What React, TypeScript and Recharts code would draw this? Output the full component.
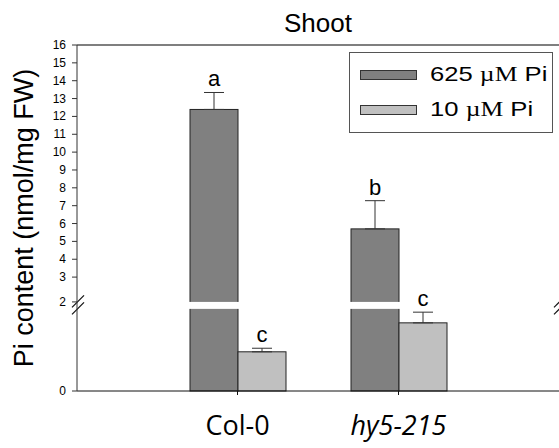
import React from "react";
import {
  ComposedChart,
  Bar,
  XAxis,
  YAxis,
  ErrorBar,
  ReferenceLine,
  Legend,
  LabelList,
} from "recharts";

const categories = ["Col-0", "hy5-215"];
const pi625 = [12.39, 5.7];
const pi625Err = [0.95, 1.58];
const pi10 = [0.88, 1.53];
const pi10Err = [0.08, 0.24];
const letters625 = ["a", "b"];
const letters10 = ["c", "c"];
const yTickLabels = [0, 2, 3, 4, 5, 6, 7, 8, 9, 10, 11, 12, 13, 14, 15, 16];
const seriesNames = ["625 µM Pi", "10 µM Pi"];

// broken axis: lower segment 0..2, upper segment 2..16
const LOWER_TOP = 2;
const LOWER_SPAN = 4.99;
const UPPER_BASE = 5.38;
const GAP_LO = 4.6;
const GAP_HI = 4.99;
const BREAK_MARK = 4.82;

const toDisplay = (v: number) =>
  v <= LOWER_TOP ? (v / LOWER_TOP) * LOWER_SPAN : UPPER_BASE + (v - LOWER_TOP);

const DARK = "#808080";
const LIGHT = "#c0c0c0";
const FONT = "'Liberation Sans', Arial, sans-serif";

const data = categories.map((name, i) => ({
  name,
  high: toDisplay(pi625[i]),
  highErr: [0, toDisplay(pi625[i] + pi625Err[i]) - toDisplay(pi625[i])],
  low: toDisplay(pi10[i]),
  lowErr: [0, toDisplay(pi10[i] + pi10Err[i]) - toDisplay(pi10[i])],
  highLetter: letters625[i],
  lowLetter: letters10[i],
}));

const yTicks = yTickLabels.map((v) => toDisplay(v));
const yMax = toDisplay(16);

const BrokenBar = (props: any) => {
  const { x, y, width, height, fill, dv } = props;
  if (!height || height <= 0) return null;
  const ppu = height / dv;
  const base = y + height;
  return (
    <g>
      <rect x={x} y={y} width={width} height={height} fill={fill} stroke="#222" strokeWidth={1} />
      {dv > GAP_HI && (
        <rect
          x={x - 1}
          y={base - GAP_HI * ppu}
          width={width + 2}
          height={(GAP_HI - GAP_LO) * ppu}
          fill="#ffffff"
          stroke="none"
        />
      )}
    </g>
  );
};

const makeLetter = (key: "high" | "low", errKey: "highErr" | "lowErr") => (props: any) => {
  const { x, y, width, height, value, index } = props;
  const row = data[index];
  if (!row) return null;
  const ppu = height / row[key];
  const errPx = (row[errKey] as number[])[1] * ppu;
  return (
    <text
      x={x + width / 2}
      y={y - errPx - 6}
      textAnchor="middle"
      fontFamily={FONT}
      fontSize={22}
      fill="#000"
    >
      {value}
    </text>
  );
};

const BreakMarks = (props: any) => {
  const { x1, y1, x2 } = props;
  const slash = (cx: number, key: string) => (
    <g key={key}>
      <line x1={cx - 6} y1={y1 + 2.5} x2={cx + 6} y2={y1 - 9.5} stroke="#111" strokeWidth={1.2} />
      <line x1={cx - 6} y1={y1 + 9.5} x2={cx + 6} y2={y1 - 2.5} stroke="#111" strokeWidth={1.2} />
    </g>
  );
  return (
    <g>
      {slash(x1 + 1, "l")}
      {slash(x2 + 1, "r")}
    </g>
  );
};

const XTick = (props: any) => {
  const { x, y, payload } = props;
  const italic = payload.value === "hy5-215";
  return (
    <text
      x={x}
      y={y + 38}
      textAnchor="middle"
      fontFamily="'Open Sans', 'Noto Sans', sans-serif"
      fontStyle={italic ? "italic" : "normal"}
      fontSize={27}
      fill="#000"
    >
      {payload.value}
    </text>
  );
};

const YTick = (props: any) => {
  const { x, y, index } = props;
  return (
    <text
      x={x}
      y={y + 4}
      textAnchor="end"
      fontFamily={FONT}
      fontSize={12}
      fill="#000"
    >
      {String(yTickLabels[index])}
    </text>
  );
};

const LegendBox = (props: any) => {
  const payload = [...(props.payload || [])].sort(
    (a: any, b: any) => seriesNames.indexOf(a.value) - seriesNames.indexOf(b.value)
  );
  return (
    <div
      style={{
        width: 204,
        height: 81,
        border: "1px solid #555",
        boxSizing: "border-box",
        position: "relative",
        background: "#fff",
      }}
    >
      {payload.map((item: any, i: number) => {
        const parts = String(item.value).split("µM");
        return (
          <div key={i}>
            <div
              style={{
                position: "absolute",
                left: 10,
                top: 17 + i * 35,
                width: 57,
                height: 10,
                background: item.color,
                border: "1px solid #333",
                boxSizing: "border-box",
              }}
            />
            <div
              style={{
                position: "absolute",
                left: 80,
                top: 8 + i * 35,
                fontFamily: FONT,
                fontSize: 21,
                lineHeight: "26px",
                whiteSpace: "nowrap",
                color: "#000",
                transform: "scaleX(1.22)",
                transformOrigin: "left center",
              }}
            >
              {parts[0]}
              <span style={{ fontFamily: "'Liberation Serif', 'Times New Roman', serif" }}>µM</span>
              {parts[1]}
            </div>
          </div>
        );
      })}
    </div>
  );
};

export default function App() {
  return (
    <div style={{ position: "absolute", left: 0, top: 0, width: 559, height: 448, background: "#fff" }}>
      <ComposedChart
        width={559}
        height={448}
        data={data}
        margin={{ top: 45, right: 0, bottom: 0, left: 0 }}
        barGap={0}
        barSize={48}
      >
        <XAxis
          dataKey="name"
          padding={{ left: 80, right: 80 }}
          height={57}
          tickSize={4}
          tick={<XTick />}
          axisLine={{ stroke: "#111" }}
          tickLine={{ stroke: "#111" }}
          interval={0}
        />
        <YAxis
          type="number"
          domain={[0, yMax]}
          ticks={yTicks}
          interval={0}
          width={77}
          tickSize={5}
          tickMargin={6}
          tick={<YTick />}
          axisLine={{ stroke: "#333" }}
          tickLine={{ stroke: "#333" }}
          label={{
            value: "Pi content (nmol/mg FW)",
            angle: -90,
            position: "insideLeft",
            offset: 23,
            style: { fontSize: 27, fontFamily: FONT, fill: "#000", textAnchor: "middle" },
          }}
        />
        <ReferenceLine
          y={yMax}
          stroke="#000"
          strokeWidth={1.2}
          label={{
            value: "Shoot",
            position: "top",
            offset: 13,
            style: { fontSize: 26, fontFamily: FONT, fill: "#000" },
          }}
        />
        <Bar
          dataKey="high"
          name={seriesNames[0]}
          fill={DARK}
          isAnimationActive={false}
          shape={(p: any) => <BrokenBar {...p} dv={p.payload.high} />}
        >
          <ErrorBar dataKey="highErr" width={10} stroke="#333" strokeWidth={1} direction="y" />
          <LabelList dataKey="highLetter" content={makeLetter("high", "highErr")} />
        </Bar>
        <Bar
          dataKey="low"
          name={seriesNames[1]}
          fill={LIGHT}
          isAnimationActive={false}
          shape={(p: any) => <BrokenBar {...p} dv={p.payload.low} />}
        >
          <ErrorBar dataKey="lowErr" width={10} stroke="#333" strokeWidth={1} direction="y" />
          <LabelList dataKey="lowLetter" content={makeLetter("low", "lowErr")} />
        </Bar>
        <ReferenceLine y={BREAK_MARK} stroke="none" ifOverflow="visible" shape={<BreakMarks />} />
        <Legend
          layout="vertical"
          align="center"
          verticalAlign="middle"
          content={<LegendBox />}
          wrapperStyle={{ position: "absolute", left: 349, top: 52, width: 204, height: 81 }}
        />
      </ComposedChart>
    </div>
  );
}
